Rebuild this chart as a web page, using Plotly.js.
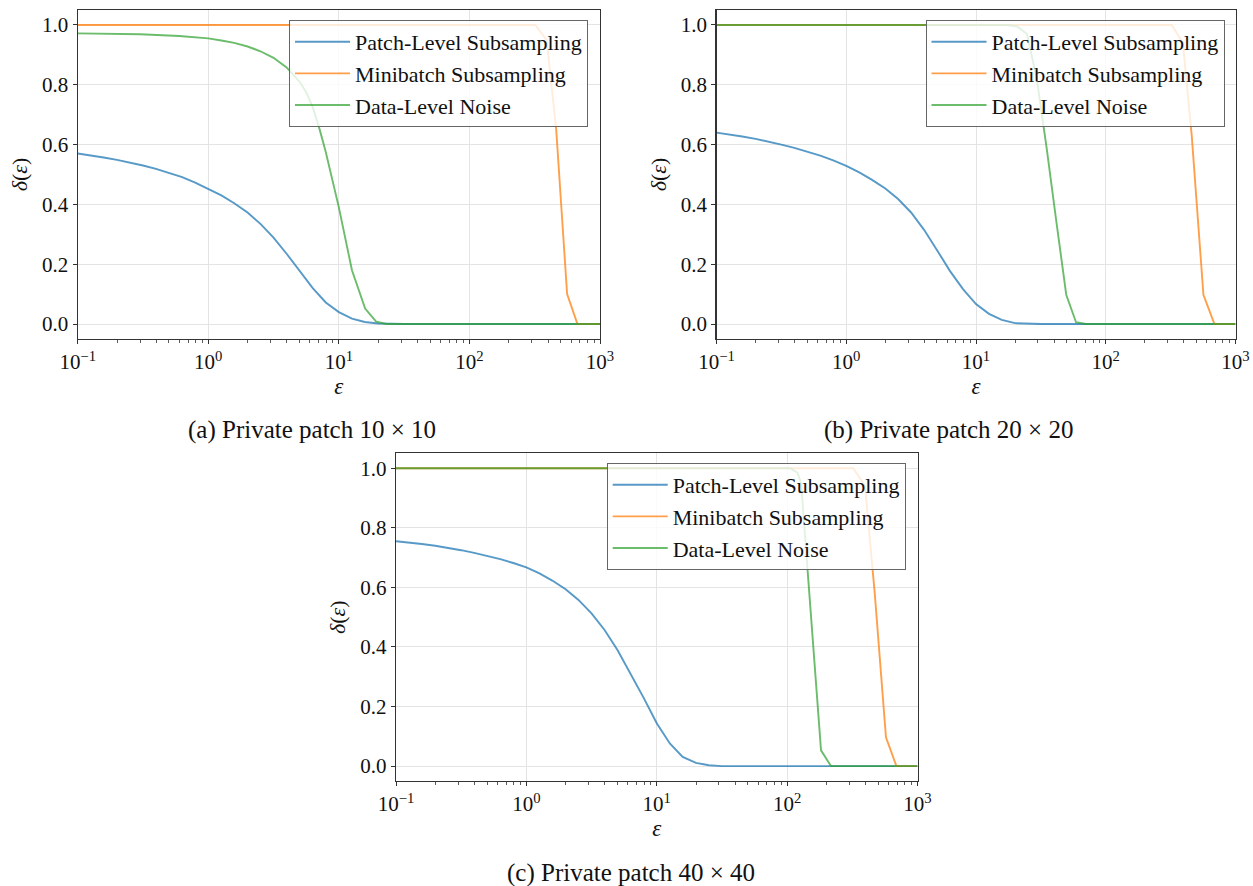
<!DOCTYPE html>
<html>
<head>
<meta charset="utf-8">
<script src="https://cdn.plot.ly/plotly-3.0.1.min.js"></script>
<style>
  html, body { margin: 0; padding: 0; background: #ffffff; }
  #chart { width: 1253px; height: 886px; }
</style>
</head>
<body>
<div id="chart"></div>
<script>
// ---------------- data ----------------
const seriesNames = ["Patch-Level Subsampling", "Minibatch Subsampling", "Data-Level Noise"];
const captions = ["(a) Private patch 10 × 10", "(b) Private patch 20 × 20", "(c) Private patch 40 × 40"];
const xTickVals = [0.1, 1, 10, 100, 1000];
const xTickText = ["10<sup>−1</sup>", "10<sup>0</sup>", "10<sup>1</sup>", "10<sup>2</sup>", "10<sup>3</sup>"];
const yTickVals = [0, 0.2, 0.4, 0.6, 0.8, 1.0];
const yTickText = ["0.0", "0.2", "0.4", "0.6", "0.8", "1.0"];

// epsilon positions at which the patch-level curves were read
const epsPatch = [0.1, 0.126, 0.158, 0.2, 0.251, 0.316, 0.398, 0.501, 0.631, 0.794, 1,
                  1.26, 1.58, 2, 2.51, 3.16, 3.98, 5.01, 6.31, 7.94, 10,
                  12.6, 15.8, 20, 25.1, 31.6, 1000];

// (a) private patch 10 x 10
const deltaPatchA = [0.570, 0.564, 0.557, 0.549, 0.540, 0.530, 0.519, 0.506, 0.491, 0.473, 0.452,
                     0.430, 0.404, 0.373, 0.335, 0.289, 0.235, 0.177, 0.120, 0.072, 0.040,
                     0.018, 0.007, 0.002, 0, 0, 0];
const epsMiniA    = [0.1, 320, 390, 462, 560, 672, 1000];
const deltaMiniA  = [1, 1, 0.95, 0.65, 0.10, 0, 0];
const epsNoiseA   = [0.1, 0.3, 0.6, 1, 1.26, 1.58, 2, 2.51, 3.16, 3.98, 5.01, 5.62, 6.31, 7.08, 7.94, 10, 12.6, 15.9, 19.3, 23.3, 1000];
const deltaNoiseA = [0.972, 0.969, 0.963, 0.955, 0.948, 0.940, 0.928, 0.912, 0.890, 0.858, 0.810, 0.775, 0.725, 0.655, 0.575, 0.39, 0.18, 0.052, 0.008, 0, 0];

// (b) private patch 20 x 20
const deltaPatchB = [0.640, 0.634, 0.627, 0.619, 0.610, 0.600, 0.589, 0.577, 0.563, 0.547, 0.529,
                     0.507, 0.482, 0.453, 0.418, 0.373, 0.315, 0.247, 0.177, 0.117, 0.067,
                     0.034, 0.014, 0.003, 0.001, 0, 0];
const epsMiniB    = [0.1, 323, 393, 460, 566, 688, 1000];
const deltaMiniB  = [1, 1, 0.94, 0.63, 0.098, 0, 0];
const epsNoiseB   = [0.1, 17.5, 20.8, 24.7, 29.4, 35, 41.7, 49.6, 59, 70.3, 1000];
const deltaNoiseB = [1, 1, 0.995, 0.97, 0.82, 0.59, 0.34, 0.098, 0.006, 0, 0];

// (c) private patch 40 x 40
const deltaPatchC = [0.755, 0.751, 0.746, 0.740, 0.733, 0.725, 0.716, 0.706, 0.695, 0.682, 0.667,
                     0.647, 0.623, 0.594, 0.558, 0.513, 0.457, 0.389, 0.311, 0.229, 0.144,
                     0.076, 0.031, 0.011, 0.003, 0, 0];
const epsMiniC    = [0.1, 322, 396, 470, 573, 689, 1000];
const deltaMiniC  = [1, 1, 0.94, 0.58, 0.097, 0, 0];
const epsNoiseC   = [0.1, 105, 120, 128, 148, 182, 217, 1000];
const deltaNoiseC = [1, 1, 0.985, 0.95, 0.58, 0.053, 0, 0];

// ---------------- styling ----------------
const FONT = "'Liberation Serif', 'Times New Roman', serif";
const W = 1253, H = 886;
const colors = ["rgba(31,119,180,0.75)", "rgba(255,127,14,0.75)", "rgba(44,160,44,0.7)"];

// plot areas in pixels [left, right, top, bottom]
const boxes = [
  [77.7, 600, 10, 339],
  [716.5, 1235.5, 10, 339],
  [396, 917.5, 453.4, 781]
];
const legendPos = [
  [588, 20],
  [1224.5, 20],
  [905.7, 463]
];
const captionPos = [[312, 430], [949, 430], [631, 873]];

const panels = [
  [[epsPatch, deltaPatchA], [epsMiniA, deltaMiniA], [epsNoiseA, deltaNoiseA]],
  [[epsPatch, deltaPatchB], [epsMiniB, deltaMiniB], [epsNoiseB, deltaNoiseB]],
  [[epsPatch, deltaPatchC], [epsMiniC, deltaMiniC], [epsNoiseC, deltaNoiseC]]
];

const minorVals = [];
for (let d = -1; d < 3; d++) {
  for (let m = 2; m <= 9; m++) minorVals.push(m * Math.pow(10, d));
}

const traces = [];
const layout = {
  width: W, height: H,
  margin: {l: 0, r: 0, t: 0, b: 0},
  paper_bgcolor: "#ffffff",
  plot_bgcolor: "#ffffff",
  font: {family: FONT, size: 21, color: "#111"},
  showlegend: true,
  annotations: []
};

panels.forEach((panel, p) => {
  const sfx = p === 0 ? "" : String(p + 1);
  const legendId = "legend" + sfx;
  panel.forEach((s, i) => {
    traces.push({
      type: "scatter", mode: "lines",
      x: s[0], y: s[1],
      name: seriesNames[i],
      xaxis: "x" + sfx, yaxis: "y" + sfx,
      legend: legendId,
      line: {color: colors[i], width: 1.9},
      hoverinfo: "skip"
    });
  });
  const b = boxes[p];
  layout["xaxis" + sfx] = {
    type: "log",
    domain: [b[0] / W, b[1] / W],
    range: [-1, 3],
    anchor: "y" + sfx,
    tickmode: "array", tickvals: xTickVals, ticktext: xTickText,
    ticks: "outside", ticklen: 4, tickwidth: 1, tickcolor: "#333",
    tickfont: {family: FONT, size: 21, color: "#111"},
    showline: true, linecolor: "#333", linewidth: 1.2, mirror: true,
    showgrid: true, gridcolor: "#e4e4e4", gridwidth: 1,
    zeroline: false,
    minor: {tickmode: "array", tickvals: minorVals, ticks: "outside", ticklen: 2.5, tickcolor: "#333", tickwidth: 0.8, showgrid: false},
    title: {text: "<i>ε</i>", font: {family: FONT, size: 23, color: "#111"}, standoff: 2}
  };
  layout["yaxis" + sfx] = {
    domain: [1 - b[3] / H, 1 - b[2] / H],
    range: [-0.05, 1.05],
    anchor: "x" + sfx,
    tickmode: "array", tickvals: yTickVals, ticktext: yTickText,
    ticks: "outside", ticklen: 4, tickwidth: 1, tickcolor: "#333",
    tickfont: {family: FONT, size: 21, color: "#111"},
    showline: true, linecolor: "#333", linewidth: 1.2, mirror: true,
    showgrid: true, gridcolor: "#e4e4e4", gridwidth: 1,
    zeroline: false,
    title: {text: "<i>δ</i>(<i>ε</i>)", font: {family: FONT, size: 22, color: "#111"}, standoff: 8}
  };
  const lp = legendPos[p];
  layout[legendId] = {
    x: lp[0] / W, y: 1 - lp[1] / H,
    xref: "paper", yref: "paper",
    xanchor: "right", yanchor: "top",
    bgcolor: "rgba(255,255,255,0.8)",
    bordercolor: "#666", borderwidth: 1,
    font: {family: FONT, size: 22, color: "#111"},
    itemwidth: 55,
    tracegroupgap: 0
  };
  layout.annotations.push({
    xref: "paper", yref: "paper",
    x: captionPos[p][0] / W, y: 1 - captionPos[p][1] / H,
    xanchor: "center", yanchor: "middle",
    text: captions[p], showarrow: false,
    font: {family: FONT, size: 25, color: "#111"}
  });
});

Plotly.newPlot("chart", traces, layout, {displayModeBar: false, staticPlot: true});
</script>
</body>
</html>
